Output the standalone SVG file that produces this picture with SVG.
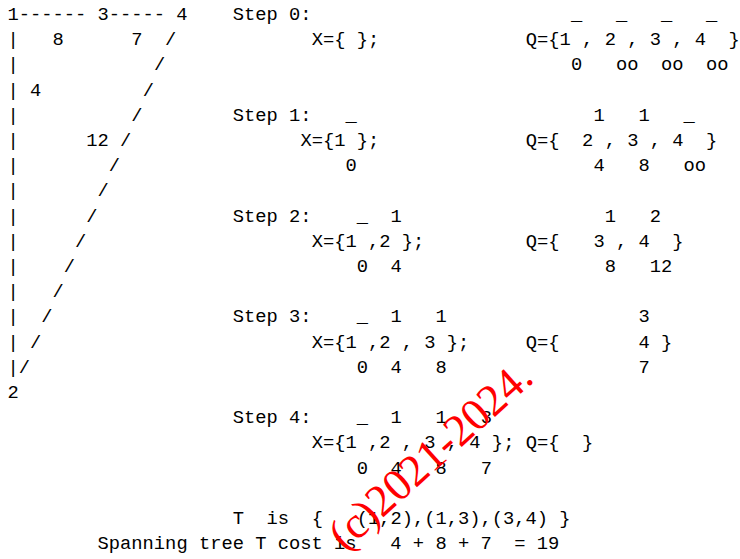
<svg xmlns="http://www.w3.org/2000/svg" width="740" height="559" viewBox="0 0 740 559">
<style>
text{font-family:"Liberation Mono","DejaVu Sans Mono",monospace;font-size:18.78px;fill:#000;white-space:pre}
.wm{font-family:"Liberation Serif","DejaVu Serif",serif;font-size:45px;fill:#ff0000}
</style>
<rect width="740" height="559" fill="#fff"/>
<g id="graph">
<text x="7.4" y="20" xml:space="preserve">1------ 3----- 4</text>
<text x="7.4" y="45.2" xml:space="preserve">|   8      7  /</text>
<text x="7.4" y="70.4">|</text><text x="153.91" y="70.4">/</text>
<text x="7.4" y="95.6" xml:space="preserve">| 4</text><text x="142.64" y="95.6">/</text>
<text x="7.4" y="120.8">|</text><text x="131.37" y="120.8">/</text>
<text x="7.4" y="146">|</text><text x="86.29" y="146">12</text><text x="120.1" y="146">/</text>
<text x="7.4" y="171.2">|</text><text x="108.83" y="171.2">/</text>
<text x="7.4" y="196.4">|</text><text x="97.56" y="196.4">/</text>
<text x="7.4" y="221.6">|</text><text x="86.29" y="221.6">/</text>
<text x="7.4" y="246.8">|</text><text x="75.02" y="246.8">/</text>
<text x="7.4" y="272">|</text><text x="63.75" y="272">/</text>
<text x="7.4" y="297.2">|</text><text x="52.48" y="297.2">/</text>
<text x="7.4" y="322.4">|</text><text x="41.21" y="322.4">/</text>
<text x="7.4" y="347.6">|</text><text x="29.94" y="347.6">/</text>
<text x="7.4" y="372.8">|/</text>
<text x="7.4" y="398">2</text>
</g>
<g id="step0">
<text x="232.8" y="20">Step 0:</text>
<text x="570.9" y="20" xml:space="preserve">_   _   _   _</text>
<text x="311.69" y="45.2" xml:space="preserve">X={ };</text>
<text x="525.82" y="45.2" xml:space="preserve">Q={1 , 2 , 3 , 4  }</text>
<text x="570.9" y="70.4" xml:space="preserve">0   oo  oo  oo</text>
</g>
<g id="step1">
<text x="232.8" y="120.8">Step 1:</text>
<text x="345.5" y="120.8">_</text>
<text x="593.44" y="120.8" xml:space="preserve">1   1   _</text>
<text x="300.42" y="146" xml:space="preserve">X={1 };</text>
<text x="525.82" y="146" xml:space="preserve">Q={  2 , 3 , 4  }</text>
<text x="345.5" y="171.2">0</text>
<text x="593.44" y="171.2" xml:space="preserve">4   8   oo</text>
</g>
<g id="step2">
<text x="232.8" y="221.6">Step 2:</text>
<text x="356.77" y="221.6" xml:space="preserve">_  1</text>
<text x="604.71" y="221.6" xml:space="preserve">1   2</text>
<text x="311.69" y="246.8" xml:space="preserve">X={1 ,2 };</text>
<text x="525.82" y="246.8" xml:space="preserve">Q={   3 , 4  }</text>
<text x="356.77" y="272" xml:space="preserve">0  4</text>
<text x="604.71" y="272" xml:space="preserve">8   12</text>
</g>
<g id="step3">
<text x="232.8" y="322.4">Step 3:</text>
<text x="356.77" y="322.4" xml:space="preserve">_  1   1</text>
<text x="638.52" y="322.4">3</text>
<text x="311.69" y="347.6" xml:space="preserve">X={1 ,2 , 3 };</text>
<text x="525.82" y="347.6" xml:space="preserve">Q={       4 }</text>
<text x="356.77" y="372.8" xml:space="preserve">0  4   8</text>
<text x="638.52" y="372.8">7</text>
</g>
<g id="step4">
<text x="232.8" y="423.2">Step 4:</text>
<text x="356.77" y="423.2" xml:space="preserve">_  1   1   3</text>
<text x="311.69" y="448.4" xml:space="preserve">X={1 ,2 , 3 , 4 }; Q={  }</text>
<text x="356.77" y="473.6" xml:space="preserve">0  4   8   7</text>
</g>
<g id="result">
<text x="232.8" y="524" xml:space="preserve">T  is  {   (1,2),(1,3),(3,4) }</text>
<text x="97.56" y="549.2" xml:space="preserve">Spanning tree T cost is   4 + 8 + 7  = 19</text>
</g>
<g id="connectors"/>
<text class="wm" x="345" y="552" transform="rotate(-42 345 552)">(c)2021-2024.</text>
</svg>
